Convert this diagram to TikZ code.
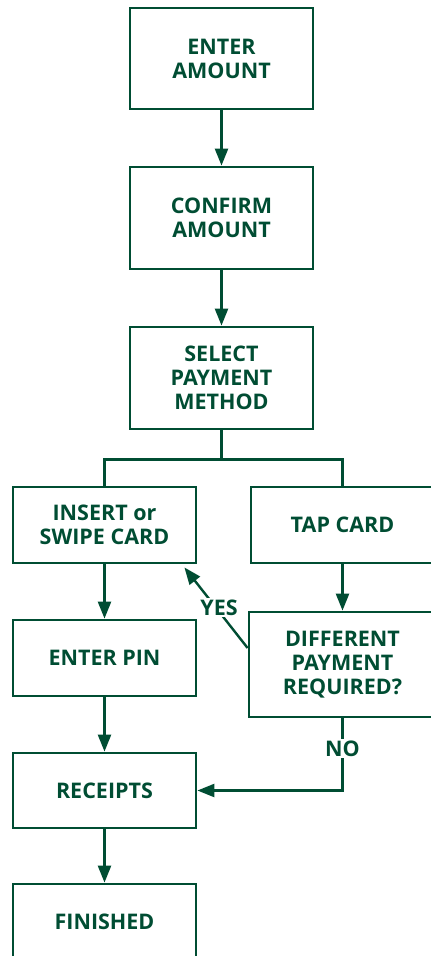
\documentclass[tikz,border=0pt]{standalone}
\usepackage{fontspec}
\setmainfont{Open Sans}
\usetikzlibrary{arrows.meta,calc}
\definecolor{dg}{RGB}{0,77,51}
\begin{document}
\begin{tikzpicture}[x=1pt,y=-1pt,
  box/.style={draw=dg,line width=2.8pt,minimum width=183pt,text=dg,align=center,
    font=\fontsize{21.5}{24}\selectfont\bfseries,inner sep=0pt},
  conn/.style={draw=dg,line width=2.4pt},
  arr/.style={conn,-{Triangle[width=13pt,length=17pt]}},
  lab/.style={text=dg,font=\fontsize{21.5}{24}\selectfont\bfseries,fill=white,inner sep=1.5pt}]
\useasboundingbox (0,0) rectangle (431,956);
\clip (0,0) rectangle (431,956);
\node[box,minimum height=101pt] (enter) at (221.5,58.5) {ENTER\\AMOUNT};
\node[box,minimum height=102pt] (confirm) at (221.5,218) {CONFIRM\\AMOUNT};
\node[box,minimum height=102pt] (select) at (221.5,378) {SELECT\\PAYMENT\\METHOD};
\node[box,minimum height=76pt] (insert) at (104.5,525) {INSERT or\\SWIPE CARD};
\node[box,minimum height=76pt] (tap) at (342.5,525) {TAP CARD};
\node[box,minimum height=105pt,minimum width=187pt] (diff) at (342.5,664.5) {DIFFERENT\\PAYMENT\\REQUIRED?};
\node[box,minimum height=76pt] (pin) at (104.5,658) {ENTER PIN};
\node[box,minimum height=75pt] (receipts) at (104.5,790.5) {RECEIPTS};
\node[box,minimum height=76pt] (finished) at (104.5,922) {FINISHED};
\coordinate (split) at ($(select.south)+(0,29)$);
\coordinate (yesend) at ($(insert.south east)+(-13,3)$);
\coordinate (yesstart) at ($(diff.west)+(0,-16.5)$);
\draw[arr] (enter) -- (confirm);
\draw[arr] (confirm) -- (select);
\draw[conn] (select.south) -- (split);
\draw[conn] (split) -| (insert.north);
\draw[conn] (split) -| (tap.north);
\draw[arr] (tap) -- (diff);
\draw[arr] (insert) -- (pin);
\draw[arr] (pin) -- (receipts);
\draw[arr] (receipts) -- (finished);
\draw[arr] (yesstart) -- node[lab,pos=0.5,xshift=3pt]{YES} (yesend);
\draw[arr] (diff.south) |- node[lab,pos=0.21]{NO} (receipts.east);
\end{tikzpicture}
\end{document}
